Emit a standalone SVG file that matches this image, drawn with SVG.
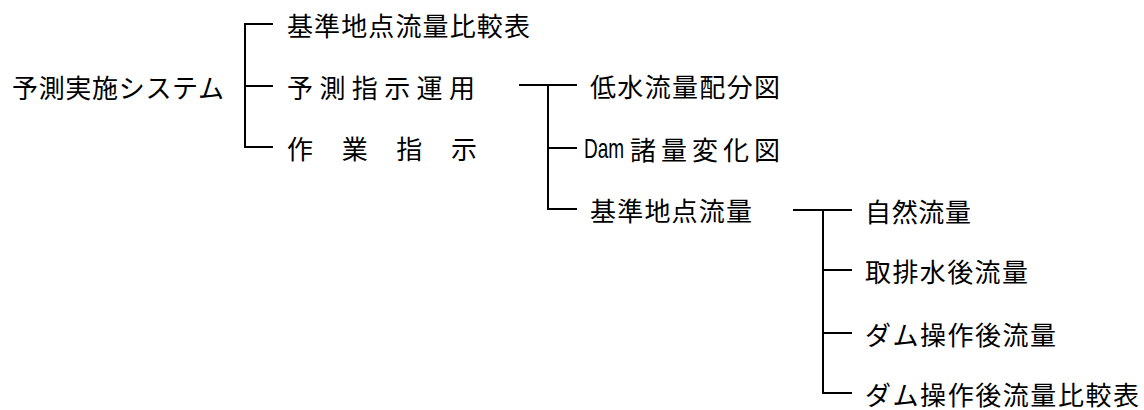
<svg xmlns="http://www.w3.org/2000/svg" width="1144" height="410" viewBox="0 0 1144 410">
<style>
  text { font-family: "Noto Sans CJK JP", "Noto Sans", sans-serif; font-size: 26px; fill: #000; dominant-baseline: central; }
  .ln { stroke: #000; stroke-width: 2; fill: none; }
  text.dam { font-family: "Liberation Sans", Arial, sans-serif; font-size: 28px; dominant-baseline: auto; }
</style>
<rect width="1144" height="410" fill="#fff"/>
<g id="connectors">
  <path class="ln" d="M273 24 H245 V147 H273 M245 86 H273"/>
  <path class="ln" d="M519 85 H577 M548 85 V209 H577 M548 148 H577"/>
  <path class="ln" d="M793 210 H852 M823 210 V393 H852 M823 270 H852 M823 333 H852"/>
</g>
<g id="root"><text x="12" y="86" textLength="212" lengthAdjust="spacing">予測実施システム</text></g>
<g id="n_kijun_hikaku"><text x="287" y="24" textLength="243" lengthAdjust="spacing">基準地点流量比較表</text></g>
<g id="n_yosoku_shiji"><text x="287" y="86" textLength="188" lengthAdjust="spacing">予測指示運用</text></g>
<g id="n_sagyo"><text x="287" y="147" textLength="190" lengthAdjust="spacing">作業指示</text></g>
<g id="n_teisui"><text x="590" y="85" textLength="190" lengthAdjust="spacing">低水流量配分図</text></g>
<g id="n_dam"><text class="dam" transform="translate(584,158) scale(0.68,1)">Dam</text><text x="630" y="148" textLength="150" lengthAdjust="spacing">諸量変化図</text></g>
<g id="n_kijun"><text x="590" y="209" textLength="162" lengthAdjust="spacing">基準地点流量</text></g>
<g id="n_shizen"><text x="865" y="210" textLength="106" lengthAdjust="spacing">自然流量</text></g>
<g id="n_shuhai"><text x="865" y="270" textLength="163" lengthAdjust="spacing">取排水後流量</text></g>
<g id="n_damsosa"><text x="865" y="333" textLength="191" lengthAdjust="spacing">ダム操作後流量</text></g>
<g id="n_damhikaku"><text x="865" y="393" textLength="274" lengthAdjust="spacing">ダム操作後流量比較表</text></g>
</svg>
